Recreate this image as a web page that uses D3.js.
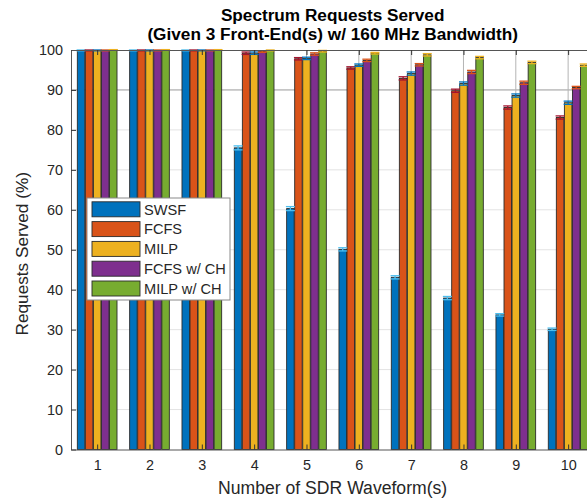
<!DOCTYPE html>
<html>
<head>
<meta charset="utf-8">
<script src="https://cdn.jsdelivr.net/npm/d3@7"></script>
<style>
  html, body { margin: 0; padding: 0; background: #fff; overflow: hidden; }
  svg { display: block; font-family: "Liberation Sans", Arial, Helvetica, sans-serif; }
</style>
</head>
<body>
<svg id="chart" width="587" height="499"></svg>
<script>
// Number of SDR waveforms on the x axis
const categories = [1, 2, 3, 4, 5, 6, 7, 8, 9, 10];
const seriesNames = ["SWSF", "FCFS", "MILP", "FCFS w/ CH", "MILP w/ CH"];

// Mean percentage of requests served per scheduler
const swsf   = [99.9, 99.9, 99.9, 75.5, 60.3, 50.1, 43.1, 37.9, 33.7, 30.1];
const fcfs   = [99.9, 99.9, 99.9, 99.2, 97.8, 95.5, 92.9, 89.8, 85.6, 83.1];
const milp   = [99.9, 99.9, 99.9, 99.2, 97.9, 96.2, 94.1, 91.6, 88.6, 86.8];
const fcfsCH = [99.9, 99.9, 99.9, 99.6, 99.0, 97.4, 96.3, 94.5, 91.8, 90.6];
const milpCH = [100, 100, 100, 99.9, 99.7, 99.2, 98.8, 98.1, 96.9, 96.2];

// Error-bar half widths (percentage points)
const swsfErr   = [0.1, 0.1, 0.1, 0.5, 0.5, 0.4, 0.4, 0.4, 0.3, 0.3];
const fcfsErr   = [0.1, 0.1, 0.1, 0.3, 0.3, 0.3, 0.4, 0.4, 0.4, 0.4];
const milpErr   = [0.1, 0.1, 0.1, 0.3, 0.3, 0.3, 0.4, 0.4, 0.4, 0.4];
const fcfsCHErr = [0.1, 0.1, 0.1, 0.2, 0.3, 0.3, 0.3, 0.4, 0.4, 0.3];
const milpCHErr = [0.1, 0.1, 0.1, 0.1, 0.2, 0.2, 0.3, 0.3, 0.3, 0.3];

const yTicks = [0, 10, 20, 30, 40, 50, 60, 70, 80, 90, 100];

const barColors = ["#0072BD", "#D95319", "#EDB120", "#7E2F8E", "#77AC30"];
const errColors = ["#4DBEEE", "#A2142F", "#0072BD", "#D95319", "#EDB120"];

const values = [swsf, fcfs, milp, fcfsCH, milpCH];
const errors = [swsfErr, fcfsErr, milpErr, fcfsCHErr, milpCHErr];

const svg = d3.select("#chart");

const plotLeft = 71, plotTop = 50, plotBottom = 449.5;
const groupStep = 52.33;
const x = d3.scaleLinear().domain([0.5, 10.5]).range([plotLeft, plotLeft + groupStep * 10]);
const y = d3.scaleLinear().domain([0, 100]).range([plotBottom, plotTop]);
const plotRight = x(10.5);

const slot = 0.769 / seriesNames.length;   // per-bar slot in x units
const barW = (x(slot * 0.93) - x(0));

const rows = [];
seriesNames.forEach((name, s) => {
  categories.forEach((c, i) => {
    rows.push({ s, c, v: values[s][i], e: errors[s][i] });
  });
});
const barCenter = d => x(d.c + (d.s - 2) * slot);

// horizontal grid
svg.append("g").selectAll("line")
  .data(yTicks.filter(t => t > 0 && t < 100))
  .join("line")
  .attr("x1", plotLeft).attr("x2", plotRight)
  .attr("y1", d => y(d)).attr("y2", d => y(d))
  .attr("stroke", d => d === 90 ? "#9a9a9a" : "#e3e3e3")
  .attr("stroke-width", 1);

// vertical grid at category centers
svg.append("g").selectAll("line")
  .data(categories)
  .join("line")
  .attr("x1", d => x(d)).attr("x2", d => x(d))
  .attr("y1", plotTop).attr("y2", plotBottom)
  .attr("stroke", "#b4b4b4")
  .attr("stroke-width", 1);

// bars
svg.append("g").selectAll("rect")
  .data(rows)
  .join("rect")
  .attr("x", d => barCenter(d) - barW / 2)
  .attr("width", barW)
  .attr("y", d => y(d.v))
  .attr("height", d => y(0) - y(d.v))
  .attr("fill", d => barColors[d.s])
  .attr("stroke", "#2b2b2b")
  .attr("stroke-width", 0.9);

// error bars
const cap = 4.5;
const eb = svg.append("g").selectAll("g")
  .data(rows)
  .join("g")
  .attr("stroke", d => errColors[d.s])
  .attr("stroke-width", 1.3);
const hi = d => y(Math.min(d.v + d.e, 100.3));
eb.append("line")
  .attr("x1", barCenter).attr("x2", barCenter)
  .attr("y1", d => y(d.v - d.e)).attr("y2", hi);
eb.append("line")
  .attr("x1", d => barCenter(d) - cap).attr("x2", d => barCenter(d) + cap)
  .attr("y1", hi).attr("y2", hi);
eb.append("line")
  .attr("x1", d => barCenter(d) - cap).attr("x2", d => barCenter(d) + cap)
  .attr("y1", d => y(d.v - d.e)).attr("y2", d => y(d.v - d.e));

// axes with inward ticks
const axisColor = "#555";
const textColor = "#262626";

const yAxis = svg.append("g")
  .attr("transform", `translate(${plotLeft},0)`)
  .call(d3.axisLeft(y).tickValues(yTicks).tickSize(-5).tickSizeOuter(0).tickPadding(8));
const xAxis = svg.append("g")
  .attr("transform", `translate(0,${plotBottom})`)
  .call(d3.axisBottom(x).tickValues(categories).tickFormat(d3.format("d")).tickSize(-5).tickSizeOuter(0).tickPadding(10));
const xTop = svg.append("g")
  .attr("transform", `translate(0,${plotTop})`)
  .call(d3.axisTop(x).tickValues(categories).tickFormat("").tickSize(-5).tickSizeOuter(0));

[yAxis, xAxis, xTop].forEach(g => {
  g.select(".domain").attr("stroke", axisColor);
  g.selectAll(".tick line").attr("stroke", "#333");
  g.selectAll("text").attr("fill", textColor).attr("font-size", 14.4)
    .attr("font-family", "Liberation Sans, Arial, sans-serif");
});

// axis labels
svg.append("text")
  .attr("x", (plotLeft + plotRight) / 2).attr("y", 494)
  .attr("text-anchor", "middle").attr("fill", textColor)
  .attr("font-size", 17.6)
  .text("Number of SDR Waveform(s)");

svg.append("text")
  .attr("transform", `translate(28,${(plotTop + plotBottom) / 2 + 4}) rotate(-90)`)
  .attr("text-anchor", "middle").attr("fill", textColor)
  .attr("font-size", 17.2)
  .text("Requests Served (%)");

// title
const title = svg.append("text")
  .attr("text-anchor", "middle").attr("fill", "#000")
  .attr("font-size", 17.2).attr("font-weight", "bold");
title.append("tspan").attr("x", (plotLeft + plotRight) / 2).attr("y", 20.5).text("Spectrum Requests Served");
title.append("tspan").attr("x", (plotLeft + plotRight) / 2).attr("y", 40).text("(Given 3 Front-End(s) w/ 160 MHz Bandwidth)");

// legend
const legend = svg.append("g").attr("transform", "translate(87,198)");
legend.append("rect")
  .attr("width", 143).attr("height", 102)
  .attr("fill", "#fff").attr("stroke", "#8a8a8a").attr("stroke-width", 1);
const items = legend.selectAll("g.item")
  .data(seriesNames)
  .join("g").attr("class", "item")
  .attr("transform", (d, i) => `translate(5,${11.3 + i * 19.8})`);
items.append("rect")
  .attr("x", 0).attr("y", -7.5).attr("width", 48).attr("height", 15)
  .attr("fill", (d, i) => barColors[i])
  .attr("stroke", "#2b2b2b").attr("stroke-width", 0.9);
items.append("text")
  .attr("x", 52).attr("y", 5.2)
  .attr("fill", textColor).attr("font-size", 14.6)
  .text(d => d);
</script>
</body>
</html>
